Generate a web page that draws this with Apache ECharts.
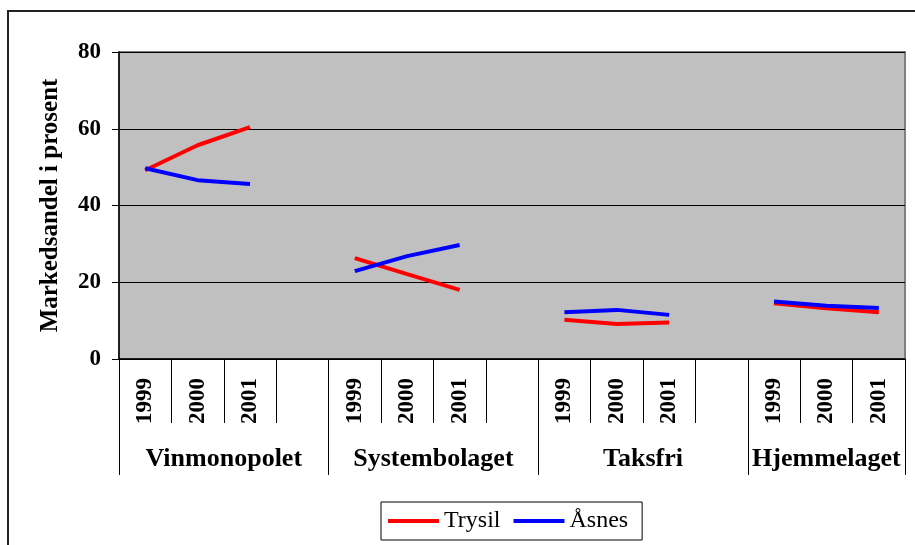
<!DOCTYPE html>
<html>
<head>
<meta charset="utf-8">
<script src="https://cdn.jsdelivr.net/npm/echarts@6/dist/echarts.min.js"></script>
<style>
  html, body { margin: 0; padding: 0; background: #fff; }
  #chart { width: 915px; height: 545px; }
</style>
</head>
<body>
<div id="chart"></div>
<script>
// markedsandel per utsalgssted, Trysil mot Åsnes
const groups = ['Vinmonopolet', 'Systembolaget', 'Taksfri', 'Hjemmelaget'];
const years = ['1999', '2000', '2001'];
const trysil = [
    [49.2, 55.7, 60.4],
    [26.3, 22.1, 18.0],
    [10.2, 9.1, 9.5],
    [14.5, 13.2, 12.2]
];
const asnes = [
    [49.7, 46.6, 45.6],
    [22.9, 26.8, 29.7],
    [12.2, 12.8, 11.5],
    [15.0, 13.9, 13.3]
];
const yTicks = [0, 20, 40, 60, 80];

const font = 'Liberation Serif';

// en tom plass mellom hver gruppe (ikke etter den siste)
const slots = [];
const groupSizes = [];
groups.forEach((g, gi) => {
    years.forEach(y => slots.push(y));
    let size = years.length;
    if (gi < groups.length - 1) {
        slots.push('');
        size += 1;
    }
    groupSizes.push(size);
});

function flatten(rows) {
    const out = [];
    rows.forEach((row, gi) => {
        row.forEach(v => out.push(v));
        if (gi < rows.length - 1) {
            out.push(null);
        }
    });
    return out;
}

// hjelpeakse med halve plasser: skillestreker og gruppenavn midt i gruppen
const halfCats = new Array(slots.length * 2 + 1).fill('');
const groupEdges = [0];
let acc = 0;
groupSizes.forEach((size, gi) => {
    halfCats[acc * 2 + size] = groups[gi];
    acc += size;
    groupEdges.push(acc * 2);
});

const chart = echarts.init(document.getElementById('chart'));

chart.setOption({
    animation: false,
    backgroundColor: '#fff',
    graphic: [{
        type: 'rect',
        z: -10,
        shape: { x: 8, y: 11, width: 1000, height: 1000 },
        style: { fill: 'none', stroke: '#222', lineWidth: 2 }
    }],
    grid: {
        left: 119,
        top: 52,
        width: 786,
        height: 307,
        show: true,
        backgroundColor: '#C0C0C0',
        borderColor: '#808080',
        borderWidth: 2
    },
    legend: {
        left: 381,
        top: 502,
        orient: 'horizontal',
        icon: 'rect',
        itemWidth: 51,
        itemHeight: 4,
        itemGap: 13,
        padding: [7, 14, 7, 7],
        borderColor: '#000',
        borderWidth: 1,
        backgroundColor: '#fff',
        textStyle: { fontFamily: font, fontSize: 24, color: '#000' },
        data: ['Trysil', 'Åsnes']
    },
    xAxis: [{
        type: 'category',
        data: slots,
        boundaryGap: true,
        axisLine: { show: true, lineStyle: { color: '#000', width: 1.5 } },
        axisTick: { show: true, interval: 0, length: 64, lineStyle: { color: '#000', width: 1 } },
        axisLabel: {
            interval: 0,
            rotate: 90,
            margin: 19,
            fontFamily: font,
            fontWeight: 'bold',
            fontSize: 23,
            color: '#000'
        },
        splitLine: { show: false }
    }, {
        type: 'category',
        data: halfCats,
        boundaryGap: false,
        position: 'bottom',
        axisLine: { show: false },
        axisTick: {
            show: true,
            length: 116,
            interval: idx => groupEdges.indexOf(idx) !== -1,
            lineStyle: { color: '#000', width: 1 }
        },
        axisLabel: {
            interval: (idx, val) => val !== '',
            margin: 87,
            fontFamily: font,
            fontWeight: 'bold',
            fontSize: 26,
            color: '#000'
        },
        splitLine: { show: false }
    }],
    yAxis: {
        type: 'value',
        min: yTicks[0],
        max: yTicks[yTicks.length - 1],
        interval: yTicks[1] - yTicks[0],
        name: 'Markedsandel i prosent',
        nameLocation: 'middle',
        nameGap: 56,
        nameTextStyle: { fontFamily: font, fontWeight: 'bold', fontSize: 25, color: '#000' },
        axisLine: { show: true, lineStyle: { color: '#000', width: 1.5 } },
        axisTick: { show: true, length: 7, lineStyle: { color: '#000', width: 1 } },
        axisLabel: { margin: 18, fontFamily: font, fontWeight: 'bold', fontSize: 23, color: '#000' },
        splitLine: { show: true, lineStyle: { color: '#000', width: 1 } }
    },
    series: [{
        name: 'Trysil',
        type: 'line',
        xAxisIndex: 0,
        data: flatten(trysil),
        symbol: 'none',
        connectNulls: false,
        color: '#FF0000',
        lineStyle: { color: '#FF0000', width: 4 }
    }, {
        name: 'Åsnes',
        type: 'line',
        xAxisIndex: 0,
        data: flatten(asnes),
        symbol: 'none',
        connectNulls: false,
        color: '#0000FF',
        lineStyle: { color: '#0000FF', width: 4 }
    }]
});
</script>
</body>
</html>
